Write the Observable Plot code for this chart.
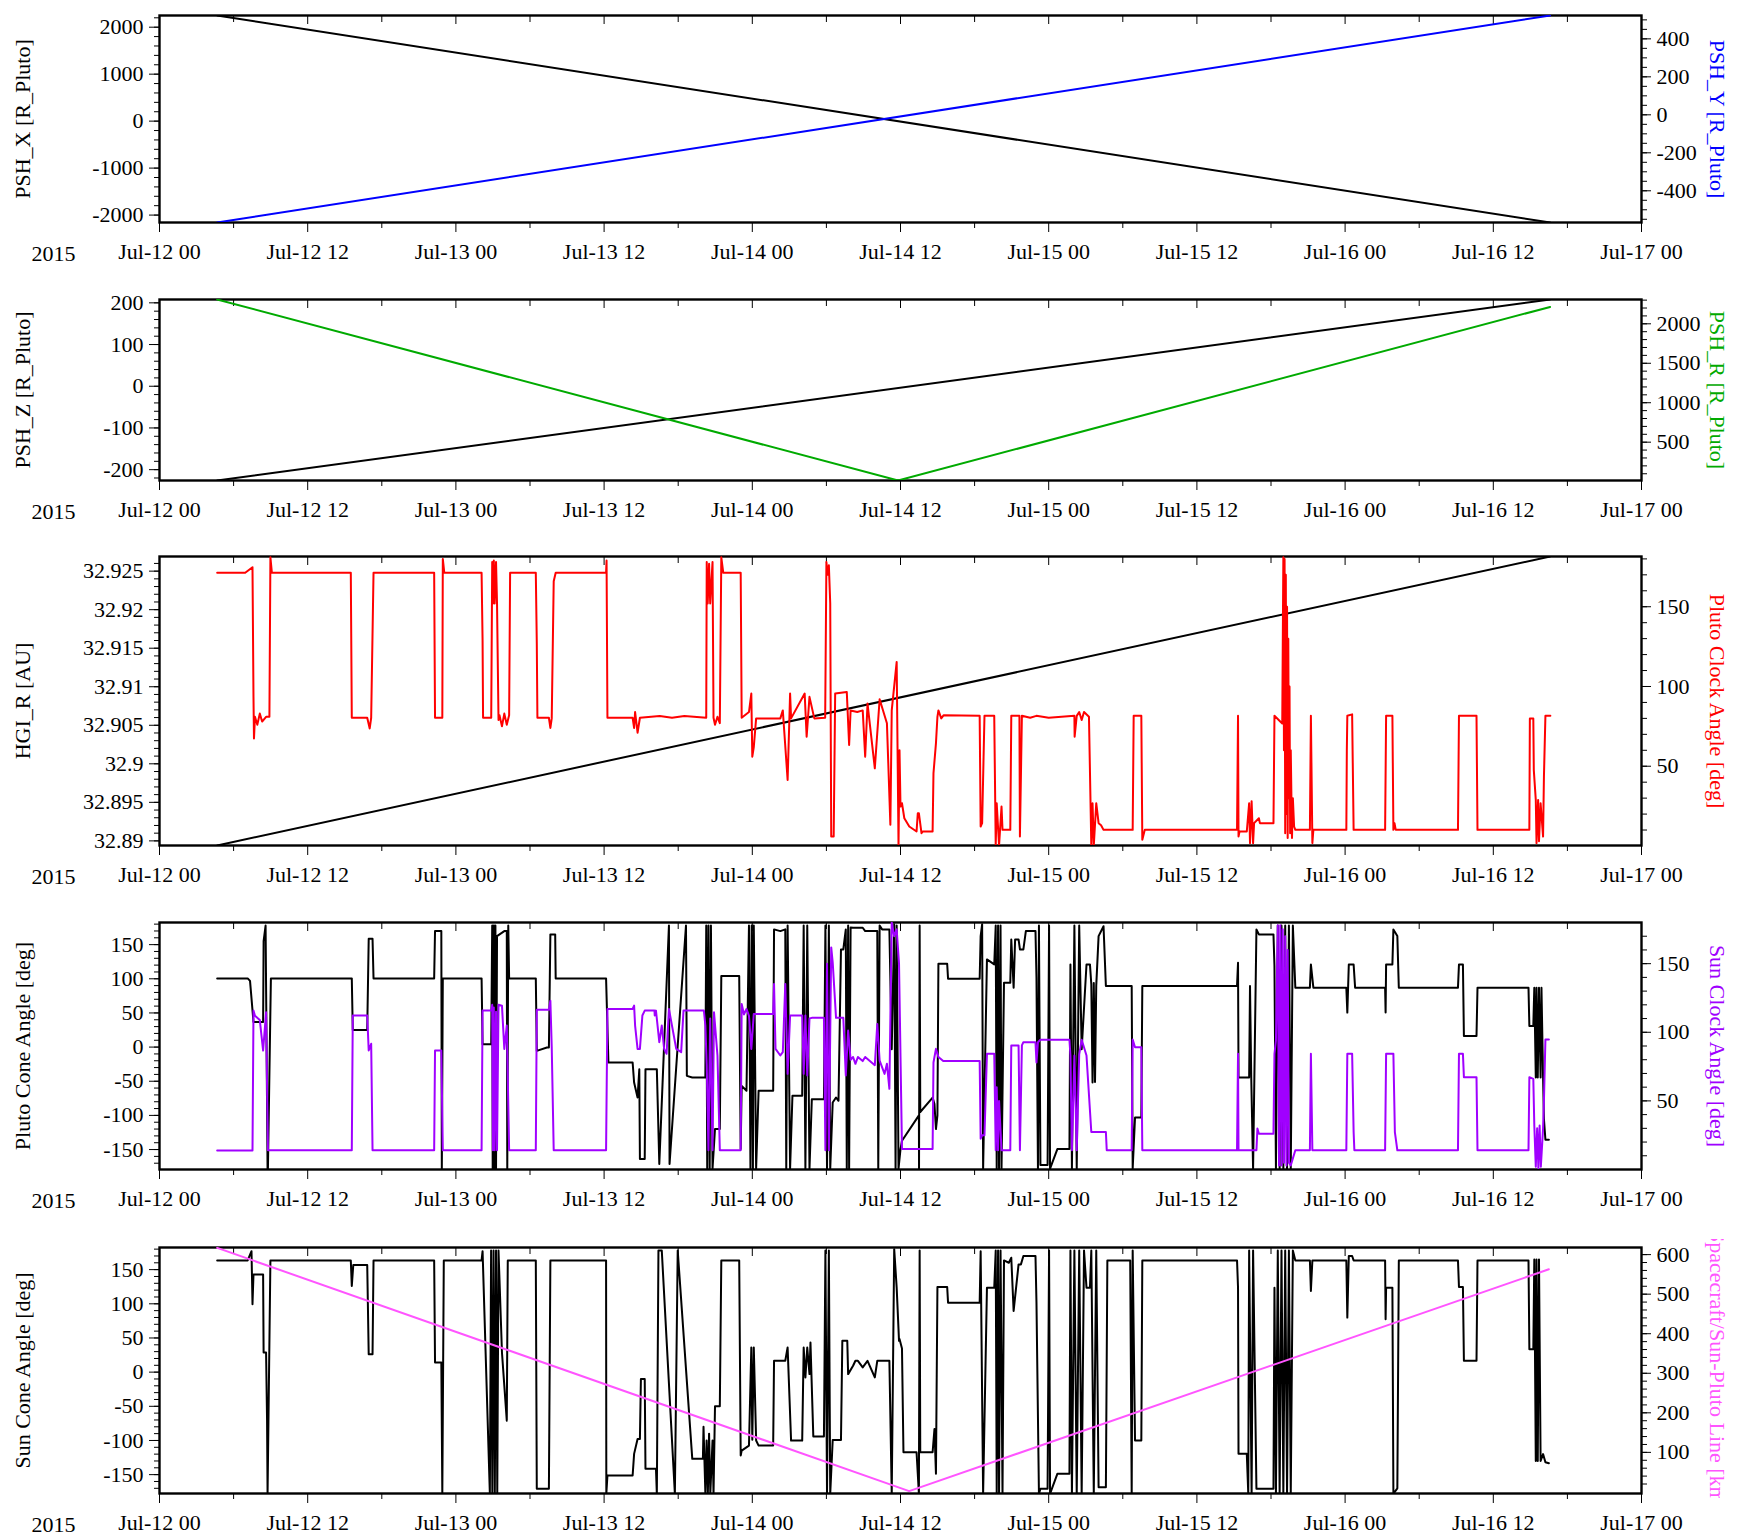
<!DOCTYPE html>
<html><head><meta charset="utf-8">
<script src="https://cdn.jsdelivr.net/npm/d3@7"></script>
<script src="https://cdn.jsdelivr.net/npm/@observablehq/plot@0.6"></script>
<style>
body{margin:0;background:#fff;}
#chart{position:relative;width:1743px;height:1536px;overflow:hidden;}
#chart svg{position:absolute;left:0;overflow:hidden;}
</style></head><body><div id="chart"></div>
<script>
// ---------- axis text ----------
const yearLabel = "2015";
const xTickHours = [0, 12, 24, 36, 48, 60, 72, 84, 96, 108, 120];
const xTickLabels = ["Jul-12 00","Jul-12 12","Jul-13 00","Jul-13 12","Jul-14 00","Jul-14 12","Jul-15 00","Jul-15 12","Jul-16 00","Jul-16 12","Jul-17 00"];
const xMinorHours = [6, 18, 30, 42, 54, 66, 78, 90, 102, 114];

// ---------- series: [hours since 2015-07-12 00:00 UTC, value] ----------
const pshX = [[4.67, 2249], [112.6, -2158]];
const pshY = [[4.67, -567], [112.6, 523]];
const pshZ = [[4.67, -226], [112.6, 208]];
const pshR = [[4.67, 2308], [59.8, 14.5], [112.6, 2214]];
const hgiR = [[4.67, 32.8894], [112.6, 32.9269]];
const scSunPlutoLine = [[4.67, 617], [60.7, 2], [112.5, 563]];

const plutoClockAngle = [[4.67,171.3],[6.94,171.3],[7.53,174.8],[7.61,93.5],[7.65,67.4],[7.73,81],[7.92,76],[8.12,83],[8.31,78],[8.63,81],[8.90,81],[8.98,181],[9.10,171.3],[15.49,171.3],[15.57,80.4],[16.82,80.4],[17.02,73.7],[17.14,80.4],[17.33,171.3],[22.24,171.3],[22.31,80.4],[22.90,80.4],[22.94,180],[23.06,171.3],[26.08,171.3],[26.16,129],[26.20,80.4],[26.86,80.4],[26.94,178],[27.00,152],[27.07,179],[27.14,152],[27.25,178],[27.33,152],[27.45,79],[27.53,82],[27.73,75],[27.92,83],[28.12,76],[28.31,82],[28.39,171.3],[30.47,171.3],[30.55,126.9],[30.60,80.4],[31.53,80.4],[31.65,74],[31.76,80],[31.92,166],[32.08,171.3],[36.16,171.3],[36.20,179],[36.27,80.4],[38.31,80.4],[38.43,74],[38.51,84],[38.71,71],[38.90,80.4],[40.5,81.5],[41.5,80.4],[42.5,81.5],[44.27,80.4],[44.31,178],[44.39,152],[44.50,177],[44.59,152],[44.78,178],[44.86,80.4],[44.98,76],[45.18,81],[45.37,77],[45.49,181],[45.65,171.3],[47.06,171.3],[47.14,80.4],[47.73,84],[47.92,95.6],[48.00,56],[48.12,62],[48.31,80],[50.27,80],[50.47,85],[50.86,41.4],[51.06,95.6],[51.14,80],[52.24,95.6],[52.40,68.5],[52.63,93.5],[53.02,80],[53.90,80.4],[54.00,178],[54.10,170],[54.20,176],[54.31,152],[54.39,5.9],[54.59,5.9],[54.71,95.6],[55.65,96.6],[55.84,63.3],[55.96,85],[56.5,84],[56.94,85],[57.14,56],[57.33,89.3],[57.92,48.7],[58.31,92],[58.90,77],[59.18,13.3],[59.29,85],[59.69,115.4],[59.84,0.3],[59.92,60],[60.0,24.7],[60.12,26.8],[60.31,17.4],[60.71,12.2],[61.30,9.1],[61.40,20.5],[61.49,20.5],[61.70,8.0],[61.81,9.1],[62.60,9.1],[62.67,45.6],[62.87,64.3],[62.99,81],[63.07,85],[63.3,80],[63.5,82],[66.41,81.6],[66.49,12.2],[66.61,14.3],[66.80,81.6],[67.59,81.6],[67.71,0.3],[67.79,26.8],[67.98,0.3],[68.18,24.7],[68.26,10.1],[68.89,10.1],[68.97,81.6],[69.63,81.6],[69.67,5.9],[69.83,81.6],[70.5,80.4],[71.0,81.6],[72.0,80.4],[74.08,81.6],[74.10,68.5],[74.27,81.6],[74.47,84],[74.67,79],[74.86,84],[75.26,81],[75.45,0.3],[75.55,26.8],[75.65,0.3],[75.85,26.8],[76.04,14.3],[76.24,13],[76.44,10.1],[78.80,10.1],[78.88,81.6],[79.50,81.6],[79.58,3.9],[79.78,10.1],[87.25,10.1],[87.33,81.6],[87.37,5.9],[87.45,9.1],[88.04,9.1],[88.23,26.8],[88.30,1.8],[88.43,28],[88.55,1.8],[88.63,14.3],[89.02,17.4],[89.1,14.3],[90.20,14.3],[90.28,81.6],[90.91,76.8],[91.0,181],[91.05,60],[91.10,180],[91.15,8],[91.2,170],[91.25,20],[91.3,150],[91.35,5],[91.4,130],[91.45,30],[91.5,100],[91.55,8],[91.6,60],[91.7,5],[91.77,30],[91.87,12.2],[91.97,10.1],[93.15,10.1],[93.23,81.6],[93.35,1.8],[93.43,10.1],[96.10,10.1],[96.14,60],[96.18,81.6],[96.57,82.5],[96.69,10.1],[99.24,10.1],[99.32,81.6],[99.83,81.6],[99.91,10.1],[100.0,14.3],[100.1,10.1],[105.14,10.1],[105.22,81.6],[106.64,81.6],[106.72,10.1],[110.92,10.1],[110.96,80],[111.24,80],[111.28,47.6],[111.44,28.9],[111.5,1.8],[111.63,28.9],[111.7,3],[111.83,26.8],[112.03,5.9],[112.10,43.5],[112.22,81.6],[112.62,81.6]];

const plutoConeAngle = [[4.67,100.6],[7.14,100.6],[7.33,97],[7.61,36.8],[8.39,36.8],[8.43,155],[8.59,178],[8.75,-178],[8.78,-178],[9.02,100.6],[15.57,100.6],[15.65,25.1],[16.82,25.1],[16.94,158.6],[17.25,158.6],[17.33,100.6],[22.24,100.6],[22.31,170],[22.82,170],[22.86,-178],[22.94,100.6],[26.08,100.6],[26.16,4.2],[26.86,4.2],[26.94,178],[26.98,-178],[27.02,178],[27.06,-178],[27.10,178],[27.14,-178],[27.20,178],[27.25,-178],[27.33,162.5],[27.92,169.8],[28.12,169.8],[28.16,-178],[28.24,178],[28.31,100.6],[30.47,100.6],[30.55,-5.6],[31.37,-0.7],[31.53,-0.7],[31.65,165],[32.04,165],[32.08,100.6],[36.16,100.6],[36.35,-22.6],[38.31,-22.6],[38.43,-51.9],[38.71,-73.8],[38.85,-32.4],[38.90,-163.9],[39.29,-163.9],[39.35,-32.4],[40.27,-32.4],[40.47,-171],[41.25,178],[41.30,-171],[42.63,178],[42.70,-42.1],[43.14,-44.6],[44.20,-44.6],[44.27,178],[44.35,-178],[44.45,178],[44.55,-178],[44.65,178],[44.78,-178],[44.98,-120],[45.37,-120],[45.49,104],[46.94,104],[47.06,-149.3],[47.14,-56.7],[47.53,-64],[47.73,178],[47.85,-178],[47.95,178],[48.05,-178],[48.12,178],[48.31,-178],[48.51,-64],[49.69,-64],[49.76,172.3],[50.27,169.8],[50.67,172.3],[50.75,-178],[50.86,178],[51.06,-178],[51.25,-71.3],[52.04,-71.3],[52.16,178],[52.30,-178],[52.45,178],[52.63,-178],[52.82,-76.2],[53.80,-76.2],[53.92,178],[54.05,-178],[54.20,178],[54.31,-178],[54.51,-81.1],[54.78,-73.8],[54.98,-78.6],[55.18,143],[55.37,143],[55.57,172.3],[55.65,-178],[55.76,178],[55.84,-178],[55.96,175],[56.16,174.7],[56.94,174.7],[57.14,169.8],[58.12,169.8],[58.20,-178],[58.31,178],[58.51,172.3],[59.10,172.3],[59.29,-3.1],[59.49,180],[59.60,-178],[59.69,178],[59.84,-178],[60.0,-149.3],[60.12,-137.1],[61.49,-100],[61.50,-178],[61.55,178],[61.6,-95],[62.60,-74],[62.75,-83.5],[62.87,-120],[62.99,-100],[63.07,122],[63.78,122],[63.85,100],[66.41,100],[66.49,162.5],[66.61,180],[66.69,-178],[67.00,128.4],[67.59,121],[67.71,178],[67.79,-178],[67.90,178],[67.98,-178],[68.10,178],[68.18,-178],[68.38,94.3],[68.89,94.3],[68.97,157.6],[69.16,87],[69.28,157.6],[69.56,157.6],[69.67,143],[69.95,143],[70.15,169.8],[70.93,169.8],[71.01,101.6],[71.13,-178],[71.21,178],[71.33,-172.7],[71.91,-172.7],[72.03,178],[72.11,-178],[72.70,-149.3],[73.68,-149.3],[73.76,121],[73.88,-178],[74.08,178],[74.27,-178],[74.47,178],[74.67,-3.1],[75.06,121],[75.34,121],[75.45,91.9],[75.55,-51.9],[75.65,94],[75.75,-51],[75.85,90],[76.04,162.5],[76.44,177],[76.63,89.4],[78.72,89.4],[78.80,-178],[78.99,-103],[79.50,-103],[79.58,89.4],[87.25,89.4],[87.33,123.5],[87.37,-44.6],[88.23,-44.6],[88.30,89.4],[88.40,-44.6],[88.55,-178],[88.82,172.3],[89.02,165],[90.20,165],[90.28,118.7],[90.40,-178],[90.55,178],[90.70,-178],[90.85,178],[91.0,-178],[91.15,178],[91.3,-178],[91.45,178],[91.6,-178],[91.77,178],[91.97,87],[93.15,87],[93.23,121],[93.43,87],[96.10,87],[96.18,50.5],[96.30,121],[96.69,121],[96.81,87],[99.24,87],[99.28,50.5],[99.32,121],[99.83,121],[99.91,172.3],[100.23,162.5],[100.35,87],[105.14,87],[105.22,121],[105.54,121],[105.62,16.4],[106.64,16.4],[106.72,87],[110.85,87],[110.92,31],[111.24,31],[111.32,87],[111.44,-44.6],[111.5,87],[111.6,-44.6],[111.7,87],[111.83,-44.6],[111.9,87],[112.03,-44.6],[112.10,-105.4],[112.22,-135.7],[112.50,-135.7]];

const sunClockAngle = [[4.67,13.8],[7.53,13.8],[7.61,115.8],[7.73,112],[8.12,109],[8.39,86.7],[8.63,114.6],[8.78,14],[15.57,14],[15.65,112.2],[16.82,112.2],[16.94,86.7],[17.14,91.6],[17.25,14],[22.24,14],[22.31,86.7],[22.82,86.7],[22.94,14],[26.08,14],[26.16,115.8],[26.86,115.8],[26.94,120],[27.0,14],[27.07,118],[27.14,14],[27.25,115],[27.33,14],[27.45,120],[27.73,119.4],[27.92,87.9],[28.12,104.9],[28.31,14],[30.47,14],[30.55,116.5],[31.53,116.5],[31.65,123],[31.76,89.1],[31.92,14],[36.16,14],[36.27,117],[38.31,117],[38.43,119.4],[38.51,104.9],[38.71,87.9],[38.90,87.9],[39.10,112.2],[39.29,115.8],[40.08,115.8],[40.10,112.2],[40.20,115.8],[40.47,92.8],[40.67,104.9],[40.86,87.9],[41.06,84.3],[41.25,117],[41.84,87.9],[42.24,85.5],[42.43,115.8],[43.14,115.8],[44.08,115.8],[44.20,104.9],[44.31,75.8],[44.45,14],[44.59,110],[44.78,14],[44.90,114.6],[45.18,83.1],[45.37,14],[47.06,14],[47.14,120.6],[47.33,113],[47.53,117],[47.73,112],[47.92,87.9],[48.12,113.4],[49.69,113.4],[49.76,135.2],[49.88,87.9],[50.27,83.1],[50.47,85.5],[50.67,135.2],[50.86,69.7],[51.06,112.2],[52.04,112.2],[52.16,69.7],[52.30,112.2],[52.45,68.5],[52.63,110],[52.82,110.5],[53.80,110.5],[53.92,14],[54.05,150],[54.20,14],[54.39,161.8],[54.51,151],[54.78,110.5],[55.37,110.5],[55.57,68.5],[55.76,101.3],[55.96,80],[56.16,82],[56.35,77],[56.55,82],[56.94,79],[57.14,82],[57.92,76],[58.12,106.1],[58.31,79.4],[58.71,69.7],[58.90,77],[59.10,58.8],[59.29,180],[59.49,170],[59.69,175],[59.88,150],[60.12,15],[62.60,15],[62.67,78],[62.87,87.9],[63.07,82],[63.46,79],[66.41,79],[66.49,22.5],[66.61,24.9],[66.80,24.9],[67.00,84.3],[67.59,84.3],[67.71,14],[67.79,60],[67.90,14],[67.98,50],[68.18,14],[68.89,14],[68.97,90.4],[69.56,90.4],[69.67,14],[69.83,90.4],[69.95,92.8],[70.93,92.8],[71.01,78],[71.13,92.8],[71.33,94.5],[73.68,94.5],[73.76,83.1],[73.88,14],[74.08,83.1],[74.27,14],[74.47,84],[74.67,94.5],[75.06,83.1],[75.45,27.3],[76.63,27.3],[76.70,14],[78.72,14],[78.80,94.7],[78.99,89.1],[79.50,89.1],[79.58,14],[87.25,14],[87.33,84.3],[87.37,14],[88.82,14],[88.90,29.8],[89.02,26.1],[90.20,26.1],[90.28,84.3],[90.40,94],[90.55,178],[90.65,3],[90.75,178],[90.85,3],[90.95,175],[91.05,5],[91.15,170],[91.25,3],[91.35,160],[91.45,5],[91.6,3],[91.97,14],[93.15,14],[93.23,84.3],[93.35,14],[96.10,14],[96.18,84.3],[96.57,84.3],[96.69,27.3],[96.75,14],[99.24,14],[99.32,84.3],[99.91,84.3],[100.03,27.3],[100.23,14],[105.14,14],[105.22,84.3],[105.54,84.3],[105.62,67.3],[106.64,67.3],[106.72,14],[110.85,14],[110.92,67.3],[111.24,66],[111.32,32.2],[111.44,2],[111.55,30],[111.65,0.7],[111.75,32],[111.85,2],[112.03,30],[112.10,50],[112.22,94.7],[112.50,94.7]];

const sunConeAngle = [[4.67,163.5],[7.14,163.5],[7.45,177],[7.53,99.3],[7.61,143],[8.39,143],[8.43,28.8],[8.63,28.8],[8.71,-71],[8.75,-178],[8.98,163.5],[15.49,163.5],[15.57,126],[15.69,156.7],[16.82,156.7],[16.94,26.3],[17.25,26.3],[17.33,163.5],[22.24,163.5],[22.31,14.2],[22.82,14.2],[22.90,-178],[23.02,163.5],[26.08,163.5],[26.16,177],[26.75,-178],[26.85,178],[26.95,-178],[27.05,178],[27.15,-178],[27.25,178],[27.35,-178],[27.45,178],[27.73,28.8],[28.12,-71],[28.20,163.5],[30.47,163.5],[30.55,-170.7],[31.53,-170.7],[31.65,163.5],[36.16,163.5],[36.18,-178],[36.27,-151.3],[38.31,-151.3],[38.43,-119.6],[38.71,-97.7],[38.90,-97.7],[38.98,-10.2],[39.29,-10.2],[39.35,-141.5],[40.20,-141.5],[40.27,-178],[40.40,178],[40.67,178],[41.73,-178],[41.96,178],[43.14,-126.9],[44.00,-126.9],[44.05,-80],[44.20,-178],[44.30,-100],[44.40,-178],[44.50,-90],[44.60,-178],[44.78,-100],[44.86,-178],[44.98,-50],[45.37,-50],[45.49,163.5],[46.94,163.5],[47.06,-122.1],[47.14,-114.8],[47.73,-107.5],[47.92,36],[48.00,-99],[48.12,36],[48.31,-100],[48.51,-107.5],[49.69,-107.5],[49.76,16.6],[50.67,16.6],[50.86,36],[51.14,-100.2],[52.04,-100.2],[52.16,36],[52.30,-7.7],[52.45,36],[52.63,-2.9],[52.71,43.3],[52.94,-94.3],[53.80,-94.3],[53.92,178],[54.05,-178],[54.20,178],[54.31,-178],[54.51,-99.2],[55.18,-99.2],[55.29,45.8],[55.69,45.8],[55.76,-2.9],[56.16,9.3],[56.35,16.6],[56.55,16.6],[56.94,6.9],[57.33,16.6],[57.92,-7.7],[58.12,16.6],[59.10,16.6],[59.29,-178],[59.49,180],[59.69,123.6],[59.88,45.8],[59.92,48.6],[60.12,34.6],[60.24,-117.2],[61.30,-117.2],[61.49,-178],[61.55,178],[61.60,-117.2],[62.60,-117.2],[62.75,-83.2],[62.87,-148.8],[62.99,124.6],[63.78,124.6],[63.85,101.7],[66.41,101.7],[66.49,177],[66.69,-178],[67.00,123.6],[67.59,123.6],[67.71,178],[67.79,-178],[67.90,178],[67.98,-178],[68.10,178],[68.26,-178],[68.38,163.5],[68.77,160.1],[68.97,167.4],[69.16,89.6],[69.56,157.7],[69.75,157.7],[69.95,170],[70.93,170],[71.01,101.7],[71.21,-178],[71.33,-170.7],[71.91,-170.7],[72.03,178],[72.11,-178],[72.70,-148.8],[73.68,-148.8],[73.76,178],[73.88,-178],[74.08,178],[74.27,-178],[74.47,178],[74.67,-178],[74.86,178],[75.06,123.6],[75.34,123.6],[75.45,178],[75.65,-178],[75.85,178],[76.04,-168.3],[76.63,-168.3],[76.75,163.5],[78.60,163.5],[78.72,-178],[78.80,178],[78.99,-100.2],[79.50,-100.2],[79.58,163.5],[87.25,163.5],[87.33,123.6],[87.37,-119.6],[88.04,-119.6],[88.16,-178],[88.23,178],[88.43,-178],[88.55,178],[88.82,-170.7],[90.20,-170.7],[90.28,123.6],[90.40,-178],[90.55,178],[90.70,-178],[90.85,178],[91.0,-178],[91.15,178],[91.3,-178],[91.45,178],[91.6,-178],[91.77,178],[91.97,163.5],[93.15,163.5],[93.23,118.8],[93.35,163.5],[96.10,163.5],[96.18,79.8],[96.30,170],[96.57,170],[96.69,163.5],[99.24,163.5],[99.28,77.4],[99.32,123.6],[99.83,123.6],[99.91,-178],[100.23,-170],[100.35,163.5],[105.14,163.5],[105.22,124.6],[105.54,124.6],[105.62,16.6],[106.64,16.6],[106.72,163.5],[110.85,163.5],[110.92,33.6],[111.24,33.6],[111.32,165],[111.44,-130],[111.5,165],[111.6,-130],[111.7,165],[111.83,-130],[112.03,-120],[112.22,-131.8],[112.50,-133.3]];

// ---------- helpers ----------
const T0 = Date.UTC(2015, 6, 12);
const toDate = h => new Date(T0 + h * 3600000);
const rows = pairs => pairs.map(([h, v]) => ({t: toDate(h), v}));
const xDomain = [toDate(0), toDate(120)];
const xMajor = xTickHours.map(toDate);
const xMinor = xMinorHours.map(toDate);
const labelOf = new Map(xTickHours.map((h, i) => [+toDate(h), xTickLabels[i]]));
const fmt = d => String(d);
const blank = () => "";
const inDomain = (arr, dom) => arr.filter(v => v >= Math.min(...dom) && v <= Math.max(...dom));
const FONT = "'Liberation Serif', 'Times New Roman', Times, serif";
const W = 1743, ML = 159, MR = 102;

const panels = [
  {top: 15, bottom: 222,
   left: {label: "PSH_X [R_Pluto]", data: pshX, color: "black", domain: [-2158, 2249], major: [-2000,-1000,0,1000,2000], minor: d3.range(-2200, 2201, 200)},
   right: {label: "PSH_Y [R_Pluto]", data: pshY, color: "#0000ff", domain: [-567, 523], major: [-400,-200,0,200,400], minor: d3.range(-550, 551, 50)}},
  {top: 299, bottom: 480,
   left: {label: "PSH_Z [R_Pluto]", data: pshZ, color: "black", domain: [-226, 208], major: [-200,-100,0,100,200], minor: d3.range(-220, 221, 20)},
   right: {label: "PSH_R [R_Pluto]", data: pshR, color: "#00aa00", domain: [14.5, 2308], major: [500,1000,1500,2000], minor: d3.range(100, 2301, 100)}},
  {top: 556, bottom: 845,
   left: {label: "HGI_R [AU]", data: hgiR, color: "black", domain: [32.8894, 32.9269], major: [32.89,32.895,32.9,32.905,32.91,32.915,32.92,32.925], minor: d3.range(32889, 32927).map(v => v / 1000)},
   right: {label: "Pluto Clock Angle [deg]", data: plutoClockAngle, color: "#ff0000", domain: [0.3, 181.5], major: [50,100,150], minor: d3.range(10, 181, 10)}},
  {top: 922, bottom: 1169,
   left: {label: "Pluto Cone Angle [deg]", data: plutoConeAngle, color: "black", domain: [-179.2, 182.4], major: [-150,-100,-50,0,50,100,150], minor: d3.range(-170, 181, 10)},
   right: {label: "Sun Clock Angle [deg]", data: sunClockAngle, color: "#a000ff", domain: [0, 180], major: [50,100,150], minor: d3.range(10, 171, 10)}},
  {top: 1247, bottom: 1493,
   left: {label: "Sun Cone Angle [deg]", data: sunConeAngle, color: "black", domain: [-177.6, 182.4], major: [-150,-100,-50,0,50,100,150], minor: d3.range(-170, 181, 10)},
   right: {label: "Spacecraft/Sun-Pluto Line [km]", data: scSunPlutoLine, color: "#ff55ff", domain: [-4, 618], major: [100,200,300,400,500,600], minor: d3.range(20, 611, 20)}}
];

const chart = document.getElementById("chart");

for (const p of panels) {
  const fh = p.bottom - p.top;
  // left plot: black series, frame, x axis, left y axis
  const mt = 15, mb = 48;
  const L = Plot.plot({
    width: W, height: fh + mt + mb, marginLeft: ML, marginRight: MR, marginTop: mt, marginBottom: mb,
    style: {fontFamily: FONT, fontSize: "22px", color: "black", background: "transparent", overflow: "hidden"},
    x: {type: "utc", domain: xDomain, axis: null},
    y: {domain: p.left.domain, axis: null},
    marks: [
      Plot.line(rows(p.left.data), {x: "t", y: "v", stroke: p.left.color, strokeWidth: 2, clip: true}),
      Plot.frame({stroke: "black", strokeWidth: 2.4}),
      Plot.axisX(xMajor, {anchor: "bottom", tickSize: 10, tickPadding: 11, tickFormat: d => labelOf.get(+d), label: null, fontSize: 22}),
      Plot.axisX(xMinor, {anchor: "bottom", tickSize: 6, tickFormat: blank, label: null}),
      Plot.axisX(xMajor, {anchor: "top", tickSize: 8, dy: 8, tickFormat: blank, label: null}),
      Plot.axisX(xMinor, {anchor: "top", tickSize: 6, dy: 6, tickFormat: blank, label: null}),
      Plot.axisY(inDomain(p.left.major, p.left.domain), {anchor: "left", tickSize: 10, tickPadding: 6, tickFormat: fmt, label: null, fontSize: 22}),
      Plot.axisY(inDomain(p.left.minor, p.left.domain), {anchor: "left", tickSize: 5, tickFormat: blank, label: null}),
      Plot.text([p.left.label], {text: d => d, frameAnchor: "left", dx: -137, rotate: -90, textAnchor: "middle", lineAnchor: "middle", fill: p.left.color, fontSize: 22}),
      Plot.text([yearLabel], {text: d => d, frameAnchor: "bottom-left", dx: -106, dy: 31, textAnchor: "middle", lineAnchor: "middle", fill: "black", fontSize: 22})
    ]
  });
  L.style.top = (p.top - mt) + "px";
  chart.appendChild(L);

  // right plot: coloured series, right y axis
  const rt = 8, rb = 5;
  const R = Plot.plot({
    width: W, height: fh + rt + rb, marginLeft: ML, marginRight: MR, marginTop: rt, marginBottom: rb,
    style: {fontFamily: FONT, fontSize: "22px", color: "black", background: "transparent", overflow: "hidden"},
    x: {type: "utc", domain: xDomain, axis: null},
    y: {domain: p.right.domain, axis: null},
    marks: [
      Plot.line(rows(p.right.data), {x: "t", y: "v", stroke: p.right.color, strokeWidth: 2, clip: true}),
      Plot.axisY(inDomain(p.right.major, p.right.domain), {anchor: "right", tickSize: 9, tickPadding: 6, tickFormat: fmt, label: null, fontSize: 22}),
      Plot.axisY(inDomain(p.right.minor, p.right.domain), {anchor: "right", tickSize: 5, tickFormat: blank, label: null}),
      Plot.text([p.right.label], {text: d => d, frameAnchor: "right", dx: 76, rotate: 90, textAnchor: "middle", lineAnchor: "middle", fill: p.right.color, fontSize: 22})
    ]
  });
  R.style.top = (p.top - rt) + "px";
  chart.appendChild(R);
}
</script></body></html>
